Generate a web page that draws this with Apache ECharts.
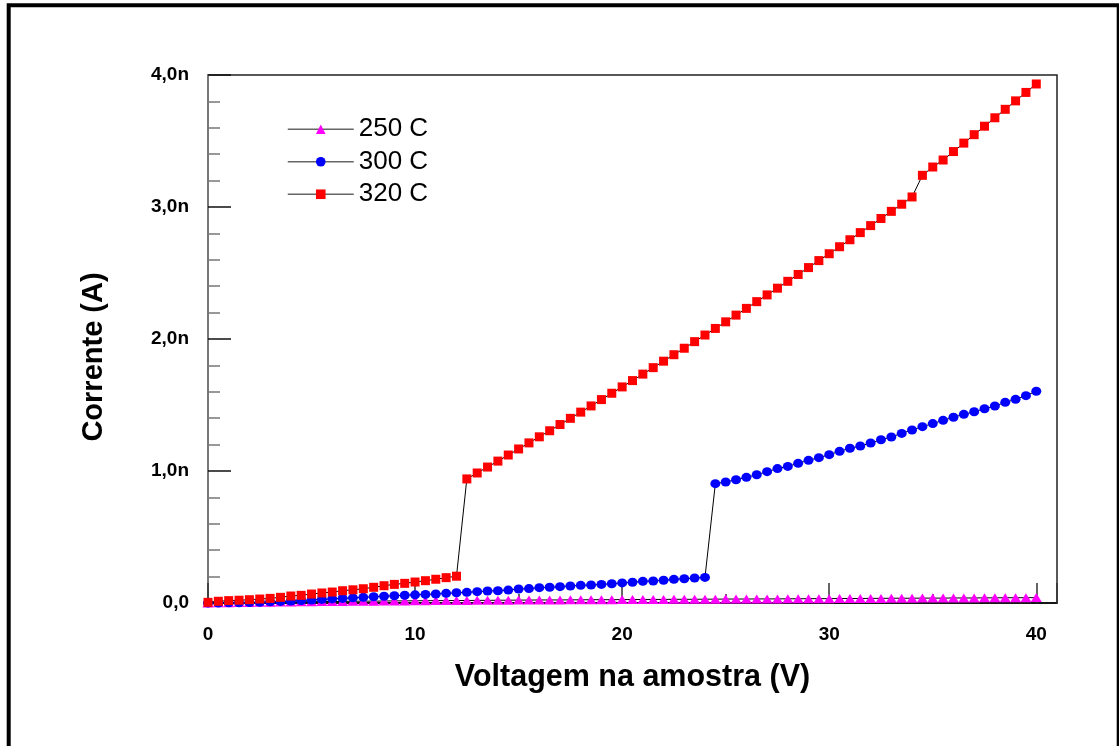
<!DOCTYPE html>
<html>
<head>
<meta charset="utf-8">
<title>Corrente x Voltagem</title>
<script src="https://cdn.jsdelivr.net/npm/echarts@6/dist/echarts.min.js"></script>
<style>
  html, body { margin: 0; padding: 0; background: #ffffff; }
  #chart { width: 1119px; height: 746px; }
</style>
</head>
<body>
<div id="chart"></div>
<script>
// Applied voltage (V), one reading every 0.5 V
const voltage = [
  0, 0.5, 1, 1.5, 2, 2.5, 3, 3.5, 4, 4.5, 5, 5.5, 6, 6.5, 7, 7.5, 8, 8.5, 9, 9.5,
  10, 10.5, 11, 11.5, 12, 12.5, 13, 13.5, 14, 14.5, 15, 15.5, 16, 16.5, 17, 17.5, 18, 18.5, 19, 19.5,
  20, 20.5, 21, 21.5, 22, 22.5, 23, 23.5, 24, 24.5, 25, 25.5, 26, 26.5, 27, 27.5, 28, 28.5, 29, 29.5,
  30, 30.5, 31, 31.5, 32, 32.5, 33, 33.5, 34, 34.5, 35, 35.5, 36, 36.5, 37, 37.5, 38, 38.5, 39, 39.5,
  40
];

// Current (nA) at 250 C
const current250 = [
  0.000, 0.001, 0.002, 0.003, 0.004, 0.005, 0.006, 0.007, 0.008, 0.009,
  0.010, 0.011, 0.011, 0.012, 0.013, 0.014, 0.014, 0.015, 0.016, 0.016,
  0.017, 0.017, 0.018, 0.018, 0.019, 0.019, 0.020, 0.020, 0.021, 0.021,
  0.022, 0.022, 0.023, 0.023, 0.023, 0.024, 0.024, 0.025, 0.025, 0.025,
  0.026, 0.026, 0.027, 0.027, 0.027, 0.028, 0.028, 0.028, 0.029, 0.029,
  0.030, 0.030, 0.030, 0.031, 0.031, 0.031, 0.032, 0.032, 0.033, 0.033,
  0.033, 0.034, 0.034, 0.034, 0.035, 0.035, 0.036, 0.036, 0.036, 0.037,
  0.037, 0.037, 0.038, 0.038, 0.038, 0.039, 0.039, 0.040, 0.040, 0.040,
  0.041
];

// Current (nA) at 300 C
const current300 = [
  0.000, 0.000, 0.001, 0.002, 0.004, 0.006, 0.009, 0.012, 0.015, 0.019,
  0.023, 0.027, 0.031, 0.035, 0.039, 0.043, 0.047, 0.051, 0.055, 0.059,
  0.062, 0.065, 0.068, 0.073, 0.078, 0.081, 0.086, 0.091, 0.093, 0.098,
  0.106, 0.109, 0.116, 0.119, 0.124, 0.129, 0.134, 0.136, 0.141, 0.146,
  0.152, 0.157, 0.164, 0.167, 0.172, 0.179, 0.184, 0.189, 0.194, 0.904,
  0.917, 0.934, 0.952, 0.972, 0.995, 1.018, 1.035, 1.058, 1.081, 1.101,
  1.124, 1.149, 1.172, 1.189, 1.212, 1.237, 1.258, 1.285, 1.311, 1.336,
  1.359, 1.384, 1.407, 1.429, 1.449, 1.472, 1.492, 1.520, 1.543, 1.571,
  1.604
];

// Current (nA) at 320 C
const current320 = [
  0.005, 0.013, 0.018, 0.021, 0.025, 0.030, 0.035, 0.043, 0.053, 0.058,
  0.068, 0.076, 0.083, 0.093, 0.100, 0.108, 0.119, 0.131, 0.141, 0.149,
  0.159, 0.169, 0.180, 0.192, 0.203, 0.940, 0.985, 1.030, 1.075, 1.121,
  1.167, 1.213, 1.259, 1.305, 1.352, 1.399, 1.446, 1.493, 1.541, 1.589,
  1.637, 1.685, 1.734, 1.783, 1.832, 1.881, 1.930, 1.980, 2.030, 2.080,
  2.130, 2.181, 2.232, 2.283, 2.334, 2.385, 2.437, 2.489, 2.541, 2.594,
  2.646, 2.699, 2.752, 2.806, 2.859, 2.913, 2.967, 3.021, 3.076, 3.240,
  3.303, 3.356, 3.420, 3.484, 3.548, 3.612, 3.676, 3.740, 3.804, 3.868,
  3.932
];

const seriesNames = ['250 C', '300 C', '320 C'];
const xTicks = [0, 10, 20, 30, 40];

const pairs = (ys) => voltage.map((v, i) => [v, ys[i]]);

const chart = echarts.init(document.getElementById('chart'));

const fontBase = '"Liberation Sans", Arial, Helvetica, sans-serif';

chart.setOption({
  backgroundColor: '#ffffff',
  animation: false,
  graphic: [{
    type: 'rect',
    shape: { x: 8.7, y: 5.3, width: 1110, height: 800 },
    style: { fill: 'none', stroke: '#000000', lineWidth: 4 },
    silent: true,
    z: 0
  }],
  grid: {
    left: 208, top: 75, right: 62, bottom: 143,
    show: true, borderColor: '#222222', borderWidth: 1.5,
    backgroundColor: 'transparent'
  },
  legend: {
    orient: 'vertical',
    left: 282, top: 110,
    itemWidth: 66, itemHeight: 12, itemGap: 4,
    data: seriesNames,
    textStyle: { fontFamily: fontBase, fontSize: 26, color: '#000', lineHeight: 28.5 },
    lineStyle: { color: '#666666', width: 1.5 }
  },
  xAxis: {
    type: 'value', min: 0, max: 41, interval: 10,
    name: 'Voltagem na amostra (V)',
    nameLocation: 'middle', nameGap: 59,
    nameTextStyle: { fontFamily: fontBase, fontSize: 30.5, fontWeight: 'bold', color: '#000' },
    axisLine: { show: true, lineStyle: { color: '#000', width: 1.5 } },
    axisTick: { show: true, inside: true, length: 20, lineStyle: { color: '#333', width: 1.5 } },
    minorTick: { show: true, splitNumber: 2, length: 9, lineStyle: { color: '#333', width: 1.5 } },
    splitLine: { show: false },
    axisLabel: {
      margin: 22, showMaxLabel: false,
      fontFamily: fontBase, fontSize: 19, fontWeight: 'bold', color: '#000',
      formatter: (v) => (xTicks.indexOf(v) >= 0 ? String(v) : '')
    }
  },
  yAxis: {
    type: 'value', min: 0, max: 4, interval: 1,
    name: 'Corrente (A)',
    nameLocation: 'middle', nameGap: 100, nameRotate: 90,
    nameTextStyle: { fontFamily: fontBase, fontSize: 29, fontWeight: 'bold', color: '#000', padding: [0, 36, 0, 0] },
    axisLine: { show: true, lineStyle: { color: '#777', width: 2 } },
    axisTick: { show: true, inside: true, length: 23, lineStyle: { color: '#111', width: 1.5 } },
    minorTick: { show: true, splitNumber: 5, length: 12, lineStyle: { color: '#777', width: 1.5 } },
    splitLine: { show: false },
    axisLabel: {
      margin: 19,
      fontFamily: fontBase, fontSize: 19, fontWeight: 'bold', color: '#000',
      formatter: (v) => (v === 0 ? '0,0' : v.toFixed(1).replace('.', ',') + 'n')
    }
  },
  series: [
    {
      name: seriesNames[0], type: 'line', data: pairs(current250),
      symbol: 'triangle', symbolSize: [11, 9],
      itemStyle: { color: '#ff00ff' },
      lineStyle: { color: '#000', width: 1 },
      z: 3
    },
    {
      name: seriesNames[1], type: 'line', data: pairs(current300),
      symbol: 'circle', symbolSize: [10, 9],
      itemStyle: { color: '#0000ff' },
      lineStyle: { color: '#000', width: 1 },
      z: 4
    },
    {
      name: seriesNames[2], type: 'line', data: pairs(current320),
      symbol: 'rect', symbolSize: 9,
      itemStyle: { color: '#ff0000' },
      lineStyle: { color: '#000', width: 1 },
      z: 5
    }
  ]
});
</script>
</body>
</html>
